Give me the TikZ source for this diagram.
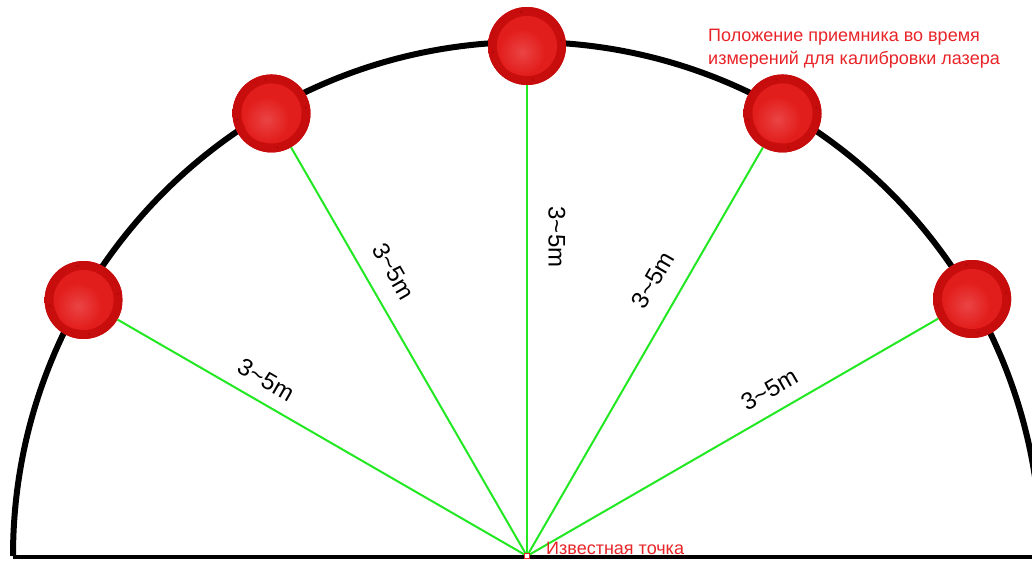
\documentclass[tikz,border=0pt]{standalone}
\usepackage{fontspec}
\setmainfont{Liberation Sans}
\usetikzlibrary{calc}
\definecolor{rcvout}{RGB}{210,18,18}
\definecolor{rcvedge}{RGB}{198,12,12}
\definecolor{rcvin}{RGB}{226,30,28}
\definecolor{rcvhi}{RGB}{234,68,68}
\definecolor{rcvdot}{RGB}{180,10,10}
\definecolor{laser}{RGB}{34,232,34}
\definecolor{note}{RGB}{232,36,40}
\tikzset{
  receiver/.style={circle, minimum size=78pt, inner sep=0pt, fill=rcvout,
    path picture={
      \coordinate (pc) at (path picture bounding box.center);
      \shade[inner color=rcvout, outer color=rcvedge] (pc) circle (39pt);
      \foreach \a in {100,190,280,10}{\fill[rcvdot] ($(pc)+(\a:34.5pt)$) circle (1.4pt);}
      \fill[rcvin] (pc) circle (30pt);
      \shade[inner color=rcvhi, outer color=rcvin] ($(pc)+(-5pt,-6pt)$) circle (23pt);
    }},
  laserline/.style={draw=laser, line width=2pt},
  rim/.style={draw=black, line width=6pt},
  baseline/.style={draw=black, line width=4pt},
  dist/.style={font=\fontsize{24}{28}\selectfont, text=black, inner sep=0pt},
  note/.style={font=\fontsize{18}{23}\selectfont, text=note, inner sep=0pt, anchor=base west},
  known/.style={draw=note, line width=1pt, minimum size=5pt, inner sep=0pt, fill=white}
}
\begin{document}
\begin{tikzpicture}[x=1pt,y=1pt]
\useasboundingbox (0,0) rectangle (1032,560);
\clip (0,0) rectangle (1032,560);
\coordinate (Oc) at (527,4);
% rim and base
\draw[rim] ($(Oc)+(180:514)$) arc[start angle=180, end angle=0, radius=514];
\draw[baseline] ($(Oc)+(-514,-1)$) coordinate (bl) -- ($(Oc)+(514,-1)$) coordinate (br);
% receivers
\node[receiver] (r150) at ($(Oc)+(150:512)$) {};
\node[receiver] (r120) at ($(Oc)+(120:511)$) {};
\node[receiver] (r90)  at ($(Oc)+(90:510)$) {};
\node[receiver] (r60)  at ($(Oc)+(60:511)$) {};
\node[receiver] (r30)  at ($(Oc)+(30:514)$) {};
% laser lines from the known point
\foreach \r in {r150,r120,r90,r60,r30}{\draw[laserline] (Oc) -- (\r);}
\node[known] (O) at (Oc) {};
% distance labels
\node[dist, rotate=-30] (l150) at ($(Oc)+(150:314)+(60:22)$) {3\textasciitilde5m};
\node[dist, rotate=-60] (l120) at ($(Oc)+(120:313)+(30:27)$) {3\textasciitilde5m};
\node[dist, rotate=-90] (l90)  at ($(Oc)+(90:319)+(0:30)$) {3\textasciitilde5m};
\node[dist, rotate=60]  (l60)  at ($(Oc)+(60:302)+(150:29)$) {3\textasciitilde5m};
\node[dist, rotate=30]  (l30)  at ($(Oc)+(30:293)+(120:23)$) {3\textasciitilde5m};
% notes
\node[note] (t1) at (708,518) {Положение приемника во время};
\node[note] (t2) at (708,495) {измерений для калибровки лазера};
\node[note] (t3) at (546,6) {Известная точка};
\end{tikzpicture}
\end{document}
